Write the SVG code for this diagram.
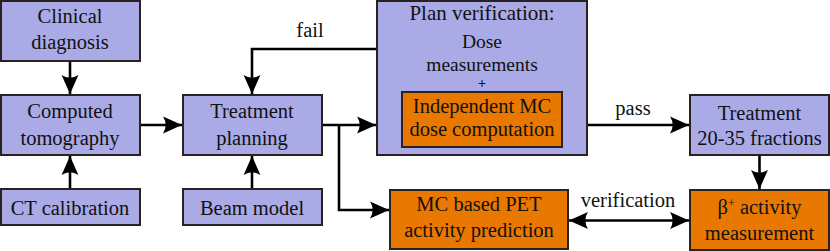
<svg xmlns="http://www.w3.org/2000/svg" width="830" height="251" viewBox="0 0 830 251">
<defs>
<style>
.box{stroke:#2a2222;stroke-width:2}
.lav{fill:#aaaae6}
.org{fill:#e87800}
text{font-family:'Liberation Serif',serif;font-size:20.5px;fill:#111;text-anchor:middle}
.sm{font-size:19.5px}
.conn{fill:none;stroke:#000;stroke-width:2.6}
</style>
<marker id="ah" markerUnits="userSpaceOnUse" markerWidth="20" markerHeight="20" viewBox="-18 -9 19 18" refX="0" refY="0" orient="auto-start-reverse">
<path d="M0,0 L-18,-8 Q-13,0 -18,8 Z" fill="#000"/>
</marker>
</defs>
<rect width="830" height="251" fill="#fff"/>
<g id="connectors">
<path class="conn" d="M70,61 V94" marker-end="url(#ah)"/>
<path class="conn" d="M70,189 V156" marker-end="url(#ah)"/>
<path class="conn" d="M140,125 H182" marker-end="url(#ah)"/>
<path class="conn" d="M252,189 V156" marker-end="url(#ah)"/>
<path class="conn" d="M322,125 H376" marker-end="url(#ah)"/>
<path class="conn" d="M339,125 V210 H389" marker-end="url(#ah)"/>
<path class="conn" d="M377,49 H252 V94" marker-end="url(#ah)"/>
<path class="conn" d="M587,125 H689" marker-end="url(#ah)"/>
<path class="conn" d="M759.5,156 V189" marker-end="url(#ah)"/>
<path class="conn" d="M569,220.5 H689" marker-start="url(#ah)" marker-end="url(#ah)"/>
<text x="310" y="37">fail</text>
<text x="633" y="115">pass</text>
<text x="628" y="207">verification</text>
</g>
<g id="clinical">
<rect class="box lav" x="1" y="1" width="139" height="60"/>
<text x="70" y="23">Clinical</text>
<text x="70" y="48.5">diagnosis</text>
</g>
<g id="ct">
<rect class="box lav" x="1" y="95" width="139" height="60"/>
<text x="70" y="117.5">Computed</text>
<text x="70" y="145">tomography</text>
</g>
<g id="ctcal">
<rect class="box lav" x="1" y="189" width="139" height="36"/>
<text x="70" y="215">CT calibration</text>
</g>
<g id="planning">
<rect class="box lav" x="183" y="95" width="139" height="60"/>
<text x="252" y="117.5">Treatment</text>
<text x="252" y="145">planning</text>
</g>
<g id="beam">
<rect class="box lav" x="183" y="189" width="139" height="36"/>
<text x="252" y="215">Beam model</text>
</g>
<g id="planverification">
<rect class="box lav" x="377" y="1" width="210" height="154"/>
<text x="482" y="19.5" style="font-size:21px">Plan verification:</text>
<text class="sm" x="482" y="47.5">Dose</text>
<text class="sm" x="482" y="71">measurements</text>
<text x="482" y="87.5" style="font-size:14px;font-weight:bold">+</text>
<g id="mcdose">
<rect class="box org" x="402" y="92" width="160" height="55"/>
<text x="482" y="113">Independent MC</text>
<text x="482" y="136">dose computation</text>
</g>
</g>
<g id="treatment">
<rect class="box lav" x="690" y="95" width="139" height="60"/>
<text x="759.5" y="119.5">Treatment</text>
<text x="759.5" y="144.5">20-35 fractions</text>
</g>
<g id="mcpet">
<rect class="box org" x="390" y="190" width="178" height="59"/>
<text x="479" y="210.5">MC based PET</text>
<text x="479" y="237">activity prediction</text>
</g>
<g id="beta">
<rect class="box org" x="690" y="190" width="139" height="60"/>
<text x="759.5" y="213.5">β<tspan dy="-7" style="font-size:12px">+</tspan><tspan dy="7"> activity</tspan></text>
<text x="759.5" y="240">measurement</text>
</g>
</svg>
